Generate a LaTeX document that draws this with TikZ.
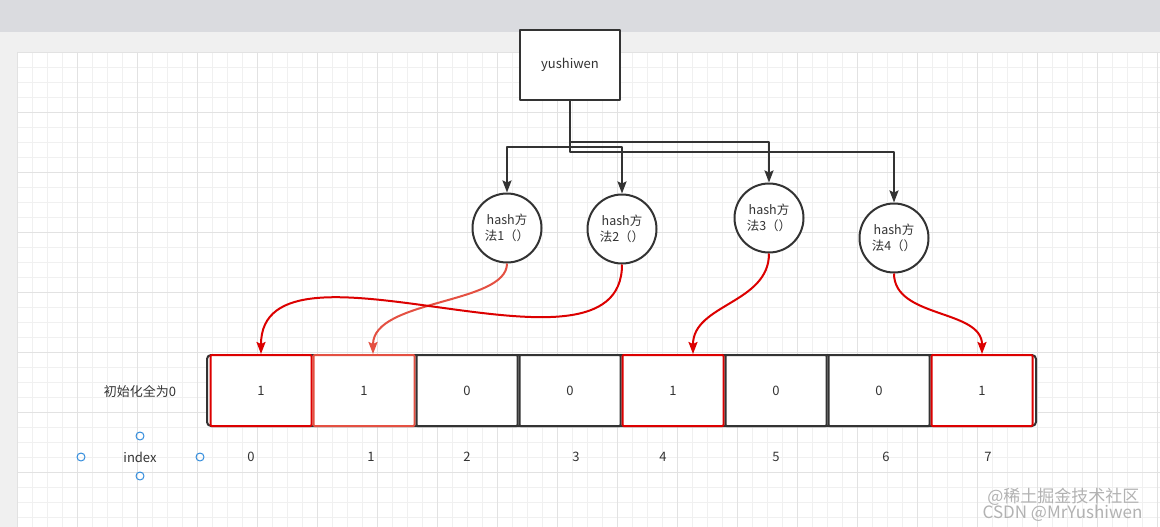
\documentclass[tikz,border=0pt]{standalone}
\usepackage{fontspec}
\setmainfont{Noto Sans CJK SC}
\usetikzlibrary{arrows.meta}
\definecolor{barcol}{RGB}{218,219,223}
\definecolor{pagecol}{RGB}{240,240,240}
\definecolor{minorcol}{RGB}{240,240,240}
\definecolor{majorcol}{RGB}{226,226,226}
\definecolor{inkcol}{RGB}{51,51,51}
\definecolor{hashred}{RGB}{220,0,0}
\definecolor{lightred}{RGB}{228,80,66}
\definecolor{handlecol}{RGB}{50,140,220}
\begin{document}
\begin{tikzpicture}[x=1pt,y=-1pt,line join=round,font=\fontsize{13}{16}\selectfont]
			\tikzset{cell/.style={draw=inkcol,fill=white,line width=2pt,minimum width=101pt,minimum height=71pt,inner sep=0pt,text=inkcol,rounded corners=1pt},
				hashnode/.style={circle,draw=inkcol,fill=white,line width=2pt,minimum size=69pt,inner sep=0pt,align=center,text=inkcol,font=\fontsize{12.5}{16}\selectfont},
				link/.style={draw=inkcol,line width=2pt,-{Stealth[length=12pt,width=9pt,inset=2pt]}},
				hashlink/.style={line width=2pt,-{Stealth[length=12pt,width=9pt,inset=2pt]}},
				handle/.style={circle,draw=handlecol,line width=1pt,minimum size=8pt,inner sep=0pt}}
			\def \xmax{1160} \def \ymax{527}
			\useasboundingbox (0,0) rectangle (\xmax,\ymax);
			\fill[pagecol] (0,0) rectangle (\xmax,\ymax);
			\fill[barcol] (0,0) rectangle (\xmax,32);
			\fill[white] (17,52) rectangle (\xmax,\ymax);
			\foreach \i in {0,...,76} \draw[minorcol,line width=0.8pt] ({17+15*\i},52)--({17+15*\i},\ymax);
			\foreach \j in {0,...,31} \draw[minorcol,line width=0.8pt] (17,{52+15*\j})--(\xmax,{52+15*\j});
			\foreach \i in {0,...,19} \draw[majorcol,line width=0.8pt] ({17+60*\i},52)--({17+60*\i},\ymax);
			\foreach \j in {0,...,7} \draw[majorcol,line width=0.8pt] (17,{52+60*\j})--(\xmax,{52+60*\j});
			\node[draw=inkcol,fill=white,line width=2pt,minimum width=100pt,minimum height=70pt,text=inkcol] (yu) at (570,65) {yushiwen};
			\node[hashnode] (h1) at (507,228) {hash方\\法1（）};
			\node[hashnode] (h2) at (622,229) {hash方\\法2（）};
			\node[hashnode] (h3) at (769,218) {hash方\\法3（）};
			\node[hashnode] (h4) at (894,238) {hash方\\法4（）};
			\draw[link] (yu.south) -- ++(0,46) -| (h1.north);
			\draw[link] (yu.south) -- ++(0,46) -| (h2.north);
			\draw[link] (yu.south) -- ++(0,41) -| (h3.north);
			\draw[link] (yu.south) -- ++(0,51) -| (h4.north);
			\draw[inkcol,fill=white,line width=2pt,rounded corners=4pt] (207,355) rectangle (1036,426);
			\foreach \v/\c [count=\i from 0] in {1/hashred,1/lightred,0/inkcol,0/inkcol,1/hashred,0/inkcol,0/inkcol,1/hashred}
				\node[cell,draw=\c] (c\i) at ({261+103*\i},390.5) {\v};
			\draw[hashlink,lightred] (h1.south) .. controls +(0,41) and +(0,-55) .. ([xshift=9pt]c1.north);
			\draw[hashlink,hashred] (h2.south) .. controls +(0,134) and +(0,-135) .. (c0.north);
			\draw[hashlink,hashred] (h3.south) .. controls +(0,50) and +(0,-50) .. ([xshift=20pt]c4.north);
			\draw[hashlink,hashred] (h4.south) .. controls +(0,45) and +(0,-45) .. (c7.north);
			\node[text=inkcol] (init) at (140,391) {初始化全为0};
			\node[text=inkcol] (idx) at (140,457) {index};
			\foreach \x [count=\i from 0] in {251,371,467,576,663,776,886,988}
				\node[text=inkcol] (n\i) at (\x,457) {\i};
			\node[handle] (hn) at (140,436) {};
			\node[handle] (hs) at (140,476) {};
			\node[handle] (hw) at (81,457) {};
			\node[handle] (he) at (200,457) {};
			\node[text=gray!60,font=\fontsize{17}{20}\selectfont,anchor=east] (wm1) at (1143,497) {@稀土掘金技术社区};
			\node[text=gray!60,font=\fontsize{17}{20}\selectfont,anchor=east] (wm2) at (1146,513) {CSDN @MrYushiwen};
		\end{tikzpicture}
\end{document}
